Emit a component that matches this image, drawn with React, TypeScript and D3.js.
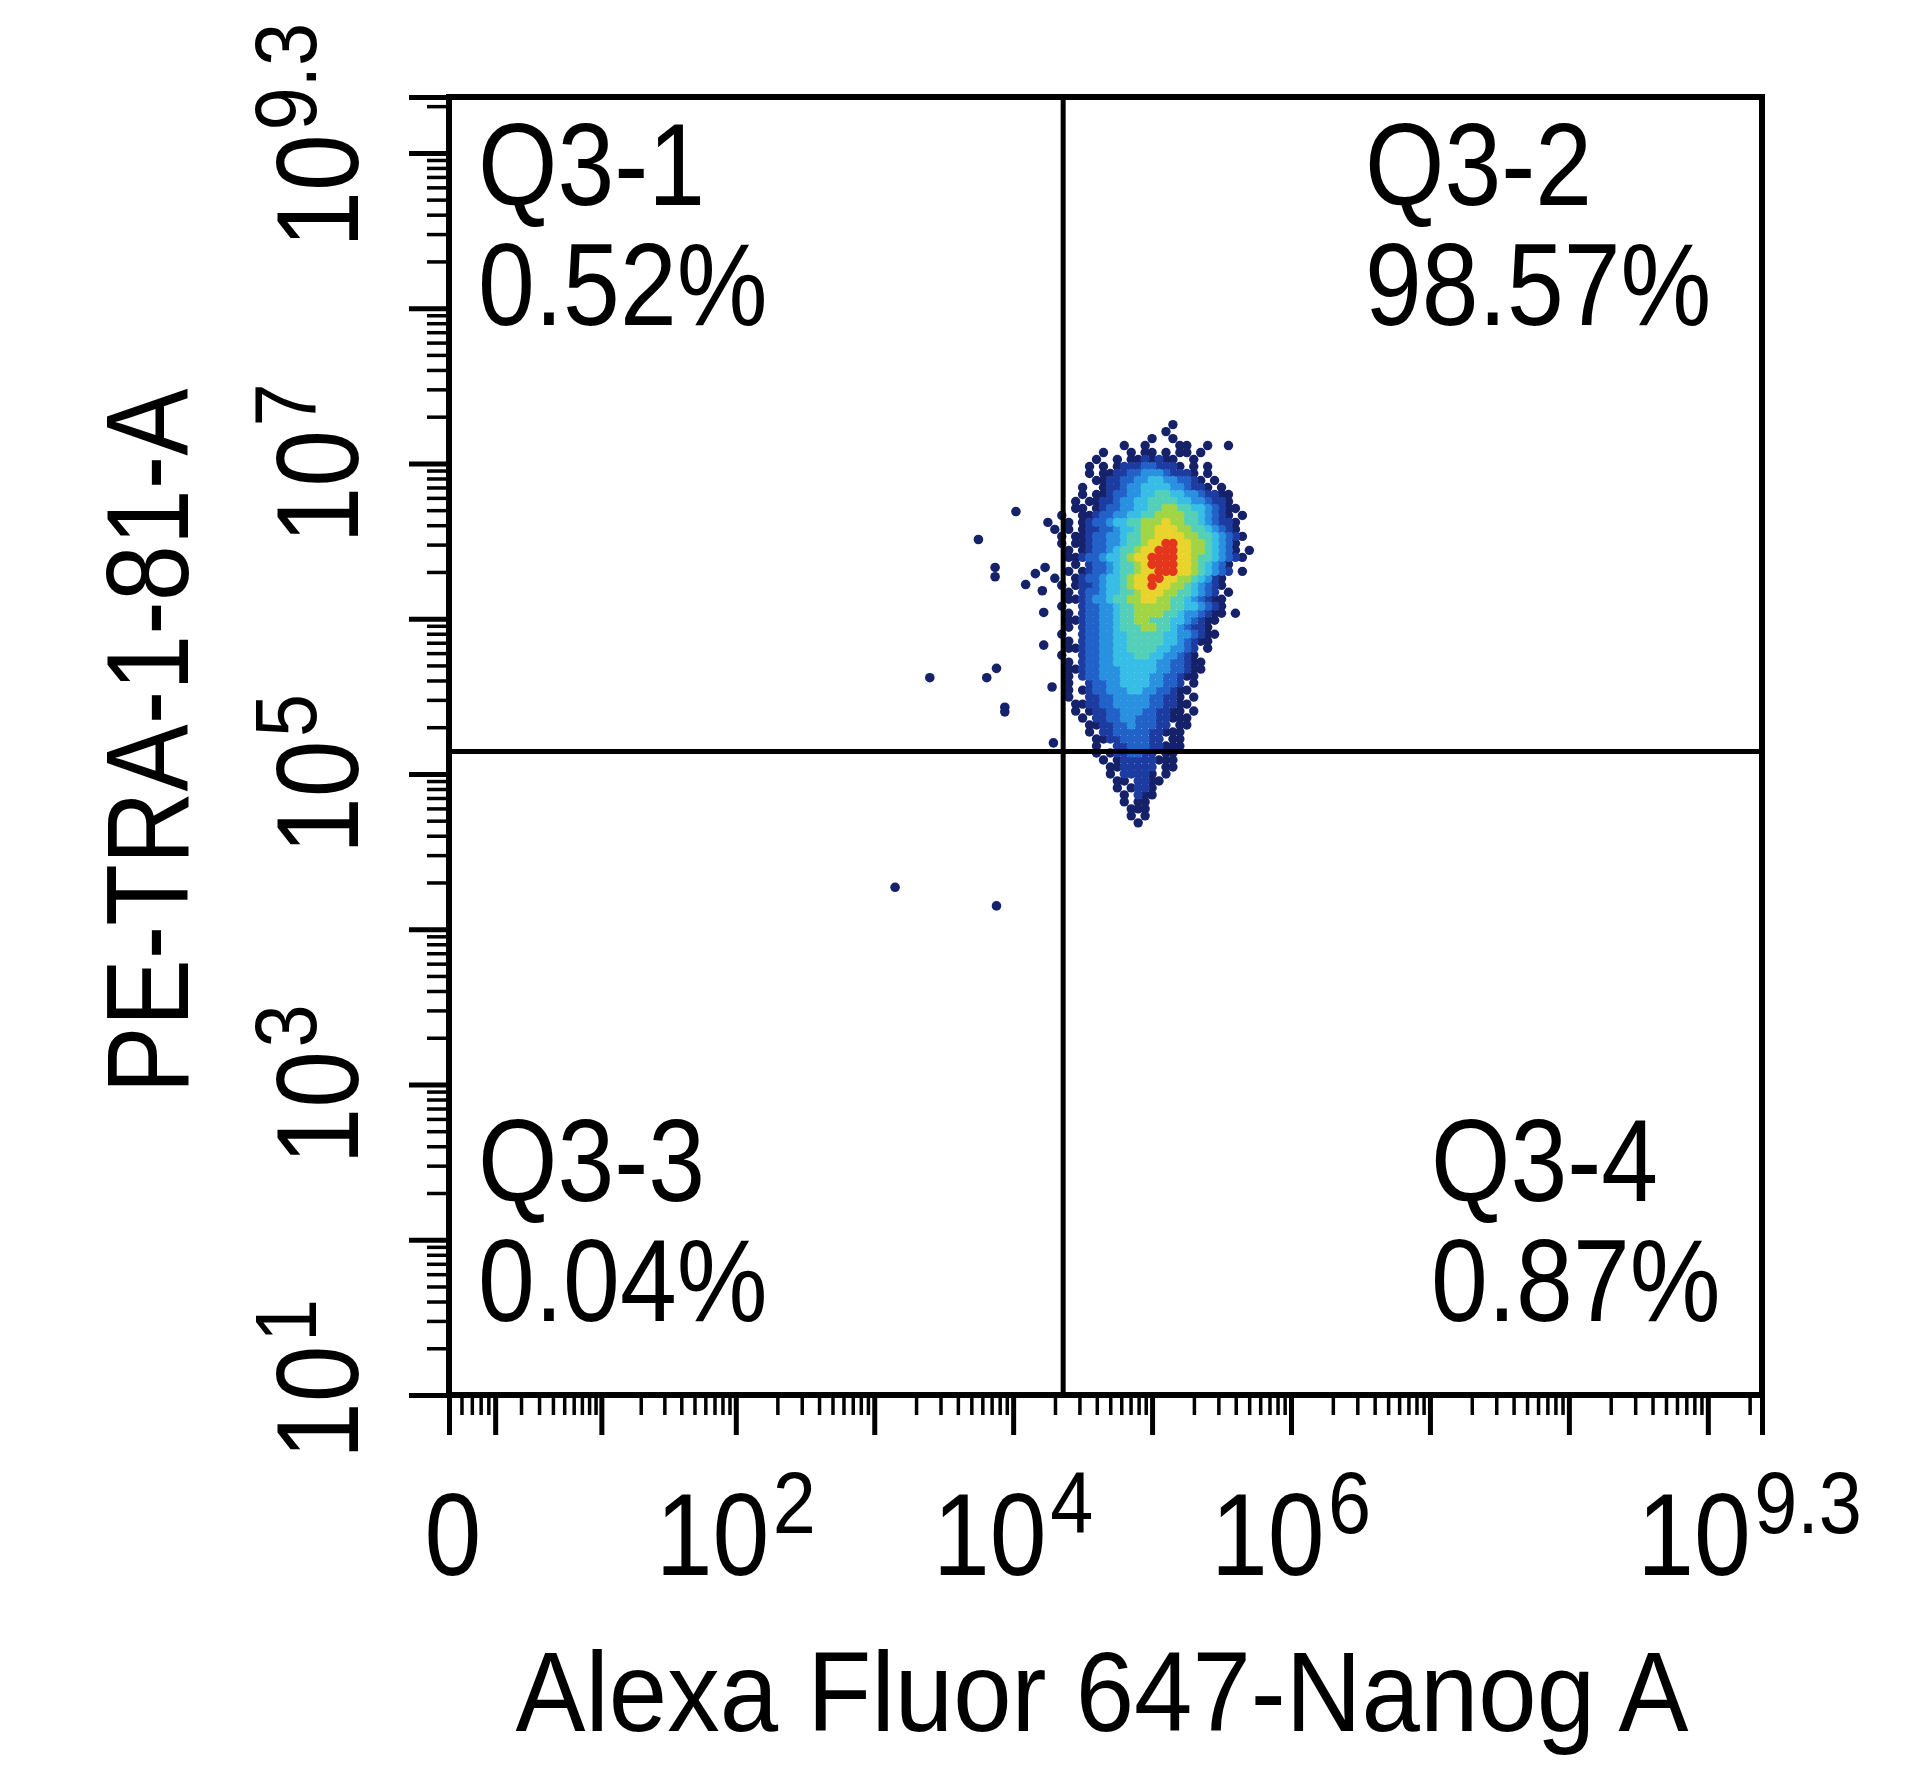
import React, { useEffect, useRef } from "react";
import * as d3 from "d3";

// axis extents, in log10 exponents
const xMaxExp = 9.39;
const yMinExp = 1;
const yMaxExp = 9.36;

const xMajorTicks = [0, 1, 1e1, 1e2, 1e3, 1e4, 1e5, 1e6, 1e7, 1e8, 1e9];
const xSubUnitTicks = [0.2, 0.4, 0.6, 0.8];
const yMajorTicks = [1e1, 1e2, 1e3, 1e4, 1e5, 1e6, 1e7, 1e8, 1e9];
const minorMultipliers = [2, 3, 4, 5, 6, 7, 8, 9];

const xLabelValues = [0, 1e2, 1e4, 1e6, 10 ** 9.3];
const xLabelBase = ["0", "10", "10", "10", "10"];
const xLabelExp = ["", "2", "4", "6", "9.3"];

const yLabelValues = [1e1, 1e3, 1e5, 1e7, 10 ** 9.3];
const yLabelExp = ["1", "3", "5", "7", "9.3"];

const xTitle = "Alexa Fluor 647-Nanog A";
const yTitle = "PE-TRA-1-81-A";

// quadrant gates
const gateX = 10 ** 4.36;
const gateY = 10 ** 5.145;

const quadrantNames = ["Q3-1", "Q3-2", "Q3-3", "Q3-4"];
const quadrantPercents = ["0.52%", "98.57%", "0.04%", "0.87%"];

// density grid of the main population (log10 units), one string per row, top to bottom
const gridX0 = 4.2;
const gridDX = 0.05;
const gridY0 = 7.25;
const gridDY = 0.045;
const rowStart = [
  19, 18, 16, 12, 9, 8, 7, 7, 8, 6, 6, 5, 5, 3, 1, 2, 3, 3, 4, 4, 5, 4, 2, 3, 4, 4, 3, 4, 4, 4,
  3, 4, 4, 3, 4, 4, 4, 4, 4, 4, 5, 5, 6, 7, 7, 8, 8, 8, 9, 10, 10, 11, 11, 12, 12, 13, 13, 14,
];
const rowLevels = [
  "1",
  "1",
  "1..1",
  "1..1....11..1..1",
  "1...1.11.1.11.1",
  "1..1.1121211..1",
  "1.1.1222332221.1.1",
  "1.11223344432221.1",
  "1122334455443321.1",
  "1..1223445555443221.1",
  "1.11233445566554432211",
  "1.112234455666655443221",
  "11.123344556677665543211",
  "1..1123344556677776654321.1",
  "1..1.12334556677787766543221",
  "1.1.12233455677888776654321",
  "1.1123344566778888776654321",
  "1.112334456678899887765431",
  "1.12334566788999887765431.1",
  "11233455678899998876654321",
  "1.233456678999988765431",
  "1.1233456678899988765432.1",
  "1..1233455678899887765421",
  "1.1223455678898877654321",
  "1.23345566788877665432.1",
  "11234456677887766543211",
  "1..233445667777766554321",
  "1.233445667777665443211.1",
  "1123344566776665543211",
  "1.2334456667766543221",
  "1..23344556666655443211",
  "1.2334455666665543211",
  "1123344556666554432.1",
  "1..23344555665544321",
  "1.233445555554433211",
  "11233444555554433211",
  "1.23344455554433211",
  "1..23344555544332.1",
  "1.1233444554433211",
  "1..22334444433221.1",
  "11223344444332211",
  "1.12233444332211.1",
  "1.22334433322111",
  "112233433322.11",
  "1.223333322111",
  "1122333322.11",
  "1..2233322111",
  "1.1223322.11",
  "1.122222111",
  "1122222.11",
  "1.22221.1",
  "11.2211",
  "1.1221",
  "1.211",
  "1.11",
  "111",
  "1.1",
  "1",
];

// scattered events outside the main population (log10 units)
const outlierXExp = [4.02, 3.75, 3.87, 3.87, 4.09, 4.16, 4.21, 4.23, 4.22, 4.22, 3.4, 3.81, 3.88, 3.94, 3.94, 4.28, 4.29, 3.15, 3.88];
const outlierYExp = [6.69, 6.51, 6.33, 6.27, 6.22, 6.29, 6.18, 6.33, 6.04, 5.83, 5.62, 5.62, 5.68, 5.43, 5.4, 5.56, 5.2, 4.27, 4.15];

const densityColors = ["#ffffff", "#15226a", "#1d3ca2", "#2262c8", "#2a90e0", "#38bee6", "#55d0b8", "#a2d545", "#e8d42c", "#e4361c"];

const App = () => {
  const svgRef = useRef<SVGSVGElement>(null);

  useEffect(() => {
    const width = 1905, height = 1767;
    const left = 449, right = 1762, top = 97, bottom = 1395;
    const font = "'Liberation Sans', Arial, Helvetica, sans-serif";
    const squeeze = 0.88;

    const svg = d3.select(svgRef.current)
      .attr("width", width)
      .attr("height", height)
      .style("background", "#fff");
    svg.selectAll("*").remove();

    const x = d3.scaleSymlog().constant(0.87)
      .domain([0, 10 ** xMaxExp])
      .range([left, right]);

    const y = d3.scaleLog()
      .domain([10 ** yMinExp, 10 ** yMaxExp])
      .range([bottom, top]);

    // density cells
    const cells = [];
    rowLevels.forEach((row, i) => {
      row.split("").forEach((c, k) => {
        if (c === ".") return;
        cells.push({
          xv: 10 ** (gridX0 + gridDX * (rowStart[i] + k)),
          yv: 10 ** (gridY0 - gridDY * i),
          level: +c,
        });
      });
    });
    cells.sort((a, b) => a.level - b.level);

    svg.append("g")
      .selectAll("circle")
      .data(cells)
      .enter().append("circle")
      .attr("cx", d => x(d.xv))
      .attr("cy", d => y(d.yv))
      .attr("r", 4.7)
      .attr("fill", d => densityColors[d.level]);

    svg.append("g")
      .selectAll("circle")
      .data(outlierXExp.map((e, i) => [10 ** e, 10 ** outlierYExp[i]]))
      .enter().append("circle")
      .attr("cx", d => x(d[0]))
      .attr("cy", d => y(d[1]))
      .attr("r", 4.8)
      .attr("fill", densityColors[1]);

    // quadrant gate lines
    svg.append("line")
      .attr("x1", x(gateX)).attr("x2", x(gateX))
      .attr("y1", top).attr("y2", bottom)
      .attr("stroke", "#000").attr("stroke-width", 5);
    svg.append("line")
      .attr("x1", left).attr("x2", right)
      .attr("y1", y(gateY)).attr("y2", y(gateY))
      .attr("stroke", "#000").attr("stroke-width", 5);

    // ticks
    const xMinor = [...xSubUnitTicks];
    for (let p = 0; p <= 9; p++) {
      minorMultipliers.forEach(m => {
        const v = m * 10 ** p;
        if (v < 10 ** xMaxExp) xMinor.push(v);
      });
    }
    const yMinor = [];
    for (let p = 1; p <= 9; p++) {
      minorMultipliers.forEach(m => {
        const v = m * 10 ** p;
        if (v < 10 ** yMaxExp) yMinor.push(v);
      });
    }

    const styleTicks = (g, w) => {
      g.select(".domain").remove();
      g.selectAll("line").attr("stroke", "#000").attr("stroke-width", w);
    };

    svg.append("g")
      .attr("transform", `translate(0, ${bottom})`)
      .call(d3.axisBottom(x).tickValues(xMinor).tickSize(20).tickFormat(() => ""))
      .call(g => styleTicks(g, 3.5));
    svg.append("g")
      .attr("transform", `translate(0, ${bottom})`)
      .call(d3.axisBottom(x).tickValues([...xMajorTicks, 10 ** xMaxExp]).tickSize(40).tickFormat(() => ""))
      .call(g => styleTicks(g, 5));

    svg.append("g")
      .attr("transform", `translate(${left}, 0)`)
      .call(d3.axisLeft(y).tickValues(yMinor).tickSize(22).tickFormat(() => ""))
      .call(g => styleTicks(g, 3.5));
    svg.append("g")
      .attr("transform", `translate(${left}, 0)`)
      .call(d3.axisLeft(y).tickValues([...yMajorTicks, 10 ** yMaxExp]).tickSize(40).tickFormat(() => ""))
      .call(g => styleTicks(g, 5));

    // frame
    svg.append("rect")
      .attr("x", left).attr("y", top)
      .attr("width", right - left).attr("height", bottom - top)
      .attr("fill", "none").attr("stroke", "#000").attr("stroke-width", 6);

    // x tick labels
    xLabelValues.forEach((v, i) => {
      const nudge = i === 0 ? 4 : 0;
      const t = svg.append("text")
        .attr("transform", `translate(${x(v) + nudge}, 1575) scale(${squeeze}, 1)`)
        .attr("text-anchor", "middle")
        .attr("font-family", font)
        .attr("font-size", 116);
      t.append("tspan").text(xLabelBase[i]);
      if (xLabelExp[i]) {
        t.append("tspan").attr("dx", 4).attr("dy", -42).attr("font-size", 88).text(xLabelExp[i]);
      }
    });

    // y tick labels
    yLabelValues.forEach((v, i) => {
      const nudge = i === 0 ? -16 : i === yLabelValues.length - 1 ? 29 : 0;
      const t = svg.append("text")
        .attr("transform", `translate(358, ${y(v) + nudge}) rotate(-90) scale(${squeeze}, 1)`)
        .attr("text-anchor", "middle")
        .attr("font-family", font)
        .attr("font-size", 116);
      t.append("tspan").text("10");
      t.append("tspan").attr("dx", 4).attr("dy", -42).attr("font-size", 88).text(yLabelExp[i]);
    });

    // axis titles
    svg.append("text")
      .attr("transform", `translate(1102, 1731) scale(${squeeze}, 1)`)
      .attr("text-anchor", "middle")
      .attr("font-family", font)
      .attr("font-size", 114)
      .attr("textLength", 1173 / squeeze)
      .attr("lengthAdjust", "spacingAndGlyphs")
      .text(xTitle);

    svg.append("text")
      .attr("transform", `translate(188, 741) rotate(-90) scale(${squeeze}, 1)`)
      .attr("text-anchor", "middle")
      .attr("font-family", font)
      .attr("font-size", 116)
      .attr("textLength", 705 / squeeze)
      .attr("lengthAdjust", "spacingAndGlyphs")
      .text(yTitle);

    // quadrant labels
    const qx = [478, 1365, 478, 1431];
    const qy = [205, 205, 1201, 1201];
    quadrantNames.forEach((name, i) => {
      [name, quadrantPercents[i]].forEach((s, j) => {
        svg.append("text")
          .attr("transform", `translate(${qx[i]}, ${qy[i] + j * 120}) scale(${squeeze}, 1)`)
          .attr("font-family", font)
          .attr("font-size", 116)
          .text(s);
      });
    });
  }, []);

  return <svg ref={svgRef} style={{ position: "absolute", left: 0, top: 0 }}></svg>;
};

export default App;
